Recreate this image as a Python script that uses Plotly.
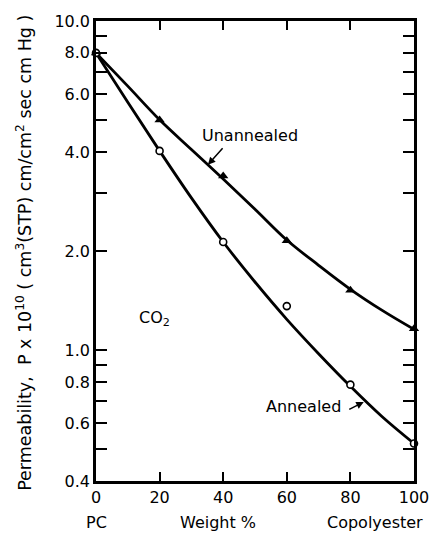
import plotly.graph_objects as go

weight_pct = [0, 20, 40, 60, 80, 100]
unannealed = [8.0, 5.0, 3.38, 2.15, 1.52, 1.16]
annealed = [8.0, 4.03, 2.13, 1.36, 0.785, 0.52]

# Smooth fitted curves, every 10 %
curve_x = [0, 10, 20, 30, 40, 50, 60, 70, 80, 90, 100]
unannealed_curve = [8.0, 6.34, 5.01, 4.07, 3.31, 2.68, 2.16, 1.81, 1.53, 1.32, 1.156]
annealed_curve = [8.0, 5.66, 4.03, 2.90, 2.13, 1.61, 1.24, 0.975, 0.776, 0.627, 0.52]

ytick_vals = [0.4, 0.5, 0.6, 0.7, 0.8, 0.9, 1.0, 2.0, 3.0, 4.0, 5.0, 6.0, 7.0, 8.0, 9.0, 10.0]
ytick_text = ["0.4", "", "0.6", "", "0.8", "", "1.0", "2.0", "", "4.0", "", "6.0", "", "8.0", "", "10.0"]
xtick_vals = [0, 20, 40, 60, 80, 100]
xtick_text = ["0", "20", "40", "60", "80", "100"]

FONT = "DejaVu Sans"

fig = go.Figure()
for ycurve in (unannealed_curve, annealed_curve):
    fig.add_trace(go.Scatter(x=curve_x, y=ycurve, mode="lines",
                             line=dict(color="black", width=2.8, shape="spline", smoothing=1.0),
                             showlegend=False, hoverinfo="skip"))
fig.add_trace(go.Scatter(x=weight_pct, y=unannealed, mode="markers", name="Unannealed",
                         marker=dict(symbol="triangle-up", size=9, color="black"),
                         showlegend=False, cliponaxis=False))
fig.add_trace(go.Scatter(x=weight_pct, y=annealed, mode="markers", name="Annealed",
                         marker=dict(symbol="circle", size=7, color="white",
                                     line=dict(color="black", width=1.6)),
                         showlegend=False, cliponaxis=False))

fig.update_layout(
    width=441, height=533,
    margin=dict(l=96, r=16, t=14, b=52),
    paper_bgcolor="white", plot_bgcolor="white",
    font=dict(family=FONT, size=16, color="black"),
    xaxis=dict(range=[0, 100], tickmode="array", tickvals=xtick_vals, ticktext=xtick_text,
               ticks="inside", ticklen=9, tickwidth=1.5, tickcolor="black",
               showline=True, linewidth=2.5, linecolor="black", mirror="ticks",
               showgrid=False, zeroline=False, tickfont=dict(size=16)),
    yaxis=dict(type="log", range=[-0.39794, 1.0], tickmode="array",
               tickvals=ytick_vals, ticktext=ytick_text,
               ticks="inside", ticklen=11, tickwidth=1.5, tickcolor="black",
               showline=True, linewidth=2.5, linecolor="black", mirror="ticks",
               showgrid=False, zeroline=False, tickfont=dict(size=16)),
)

arrow = dict(showarrow=True, arrowhead=2, arrowsize=1, arrowwidth=1.5,
             arrowcolor="black", text="", xref="x", yref="y")
annotations = [
    dict(x=48.5, y=0.653, xref="x", yref="y", text="Unannealed", showarrow=False,
         font=dict(size=16)),
    dict(arrow, x=35.2, y=0.563, ax=16, ay=-18),
    dict(x=65.2, y=-0.171, xref="x", yref="y", text="Annealed", showarrow=False,
         font=dict(size=16)),
    dict(arrow, x=84.2, y=-0.158, ax=-16, ay=8),
    dict(x=18.5, y=0.096, xref="x", yref="y", text="CO<sub>2</sub>", showarrow=False,
         font=dict(size=16)),
    dict(x=0, y=-0.09, xref="x", yref="paper", text="PC", showarrow=False,
         yanchor="middle", font=dict(size=16)),
    dict(x=38.5, y=-0.09, xref="x", yref="paper", text="Weight %", showarrow=False,
         yanchor="middle", font=dict(size=16)),
    dict(x=100, y=-0.09, xref="x", yref="paper", text="Copolyester", showarrow=False,
         yanchor="middle", xanchor="right", xshift=11, font=dict(size=16)),
    dict(x=-0.225, y=0.497, xref="paper", yref="paper", textangle=-90,
         text="Permeability,  P x 10<sup>10</sup> ( cm<sup>3</sup>(STP) cm/cm<sup>2</sup> sec cm Hg )",
         showarrow=False, font=dict(size=17.5), xanchor="center", yanchor="middle"),
]
fig.update_layout(annotations=annotations)

fig.write_html("out.html")
